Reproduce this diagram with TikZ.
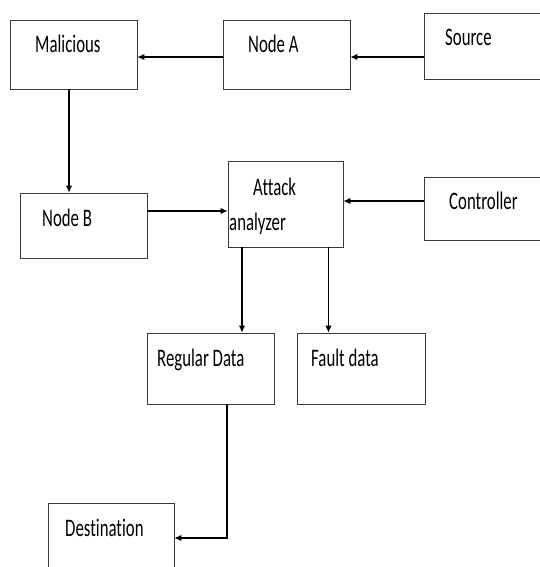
\documentclass[tikz,border=0pt]{standalone}
\usepackage{fontspec}
\setmainfont{Carlito}[Ligatures=NoCommon]
\usepackage{graphicx}
\usetikzlibrary{arrows.meta}
\definecolor{boxgray}{HTML}{3A3A3A}
\newcommand{\tall}[1]{\scalebox{1}[1.5]{#1}}

\begin{document}
\begin{tikzpicture}[x=1pt, y=-1pt, >={Latex[length=7pt,width=6.5pt]},
  every node/.style={font=\fontsize{16.8}{20}\selectfont},
  box/.style={draw=boxgray, line width=0.9pt, inner sep=0pt, minimum width=#1},
  box/.default=127pt,
  txt/.style={anchor=base west, inner sep=0pt}]

  \useasboundingbox (0,0) rectangle (540,567);

  % boxes
  \node[box, minimum height=69pt] (malicious) at (73.5,54.5) {};
  \node[box, minimum height=69pt] (nodeA) at (286.5,54.5) {};
  \node[box=128pt, minimum height=66pt] (source) at (488,46) {};
  \node[box, minimum height=65pt] (nodeB) at (83.5,225.5) {};
  \node[box=115pt, minimum height=86pt] (attack) at (285.5,204) {};
  \node[box=128pt, minimum height=63pt] (controller) at (488,208.5) {};
  \node[box, minimum height=71pt] (regular) at (210.5,368.5) {};
  \node[box=128pt, minimum height=71pt] (fault) at (361,368.5) {};
  \node[box=126pt, minimum height=72pt] (destination) at (111,539) {};

  % labels
  \node[txt] (maliciousT) at (35,53) {\tall{Malicious}};
  \node[txt] (nodeAT) at (248,53) {\tall{Node A}};
  \node[txt] (sourceT) at (445,46) {\tall{Source}};
  \node[txt] (nodeBT) at (42,226) {\tall{Node B}};
  \node[txt] (attackT) at (253,195) {\tall{Attack}};
  \node[txt] (analyzerT) at (229,230) {\tall{analyzer}};
  \node[txt] (controllerT) at (449,209) {\tall{Controller}};
  \node[txt] (regularT) at (157,366) {\tall{Regular Data}};
  \node[txt] (faultT) at (311,366) {\tall{Fault data}};
  \node[txt] (destinationT) at (65,536) {\tall{Destination}};

  % connectors
  \draw[->, line width=1.1pt] ([yshift=-11pt]source.west) -- ([yshift=-11pt]source.west -| nodeA.east);
  \draw[->, line width=1.1pt] ([yshift=-2.5pt]nodeA.west) -- ([yshift=-2.5pt]nodeA.west -| malicious.east);
  \draw[->, line width=1.1pt] ([xshift=-4.5pt]malicious.south) -- ([xshift=-4.5pt]malicious.south |- nodeB.north);
  \draw[->, line width=1.1pt] ([yshift=14.5pt]nodeB.east) -- ([yshift=14.5pt]nodeB.east -| attack.west);
  \draw[->, line width=1.1pt] ([yshift=7.5pt]controller.west) -- ([yshift=7.5pt]controller.west -| attack.east);
  \draw[->, line width=1.1pt] ([xshift=-43.5pt]attack.south) -- ([xshift=-43.5pt]attack.south |- regular.north);
  \draw[->, line width=1.1pt] ([xshift=43pt]attack.south) -- ([xshift=43pt]attack.south |- fault.north);
  \draw[->, line width=1.1pt] ([xshift=16.5pt]regular.south) |- ([yshift=1pt]destination.east);

\end{tikzpicture}
\end{document}
